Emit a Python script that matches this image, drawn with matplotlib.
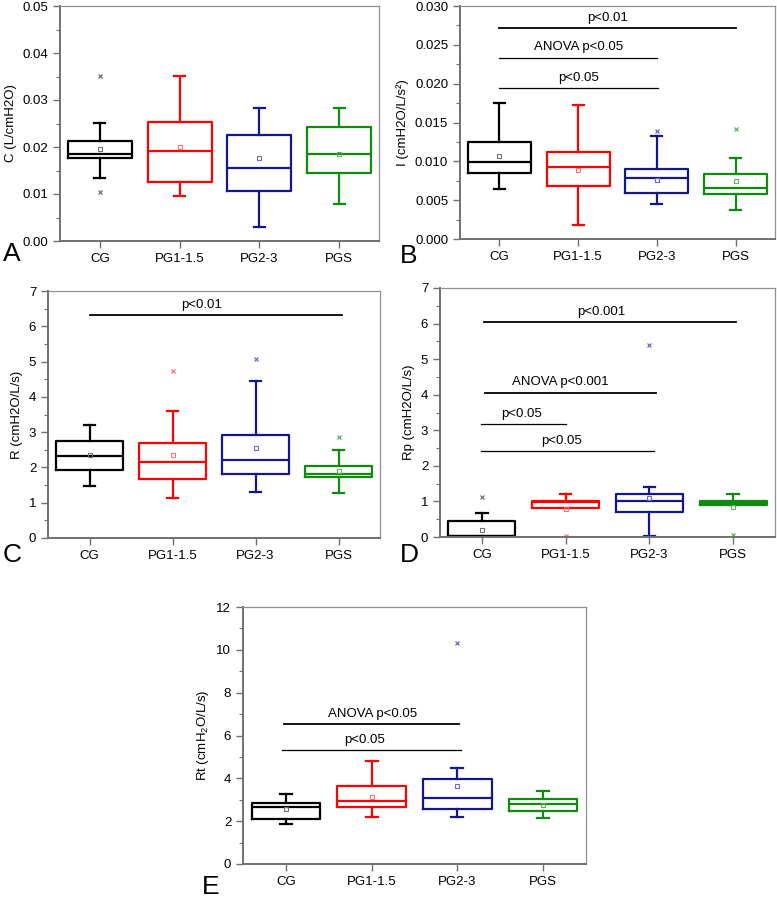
import matplotlib
matplotlib.use("Agg")
import matplotlib.pyplot as plt
from matplotlib.ticker import MultipleLocator, FormatStrFormatter

plt.rcParams['font.family'] = ['Liberation Sans', 'DejaVu Sans']
plt.rcParams['mathtext.default'] = 'regular'

groups = ["CG", "PG1-1.5", "PG2-3", "PGS"]
colors = ["#000000", "#ff0000", "#16168c", "#108a10"]
light = ["#707070", "#ff7070", "#6a6ac0", "#60b060"]

# per group: whisker low, q1, median, q3, whisker high, mean
C_stats = [(0.0135, 0.0176, 0.0185, 0.0213, 0.0252, 0.0196),
           (0.0096, 0.0125, 0.0191, 0.0254, 0.0352, 0.0200),
           (0.0030, 0.0107, 0.0156, 0.0226, 0.0283, 0.0177),
           (0.0079, 0.0144, 0.0186, 0.0243, 0.0283, 0.0186)]
C_fliers = [[0.0352, 0.0104], [], [], []]
C_sig = []

I_stats = [(0.0064, 0.00854, 0.00996, 0.01253, 0.01751, 0.01064),
           (0.00176, 0.00678, 0.00927, 0.01124, 0.01725, 0.00893),
           (0.0045, 0.00588, 0.0079, 0.00897, 0.01322, 0.00755),
           (0.00369, 0.00584, 0.00652, 0.00837, 0.01039, 0.00742)]
I_fliers = [[], [], [0.0139], [0.01412]]
# x1, x2, y, text x, label, thick line
I_sig = [(1.0, 4.01, 0.02717, 2.37, "p<0.01", True),
         (1.0, 3.0, 0.02335, 2.0, "ANOVA p<0.05", False),
         (1.0, 3.02, 0.01944, 2.0, "p<0.05", False)]

R_stats = [(1.486, 1.93, 2.31, 2.744, 3.19, 2.36),
           (1.136, 1.666, 2.148, 2.70, 3.60, 2.34),
           (1.297, 1.80, 2.214, 2.915, 4.44, 2.555),
           (1.268, 1.722, 1.826, 2.054, 2.49, 1.902)]
R_fliers = [[], [4.72], [5.07], [2.87]]
R_sig = [(1.0, 4.04, 6.31, 2.35, "p<0.01", True)]

Rp_stats = [(0.0, 0.02, 0.04, 0.459, 0.683, 0.206),
            (0.824, 0.824, 0.99, 1.011, 1.207, 0.796),
            (0.02, 0.693, 1.011, 1.198, 1.413, 1.105),
            (0.889, 0.889, 0.964, 1.02, 1.207, 0.852)]
Rp_fliers = [[1.13], [0.03], [5.40], [0.05]]
Rp_sig = [(1.03, 4.04, 6.04, 2.43, "p<0.001", True),
          (1.04, 3.08, 4.06, 1.94, "ANOVA p<0.001", True),
          (0.99, 2.01, 3.18, 1.47, "p<0.05", False),
          (0.99, 3.06, 2.42, 1.95, "p<0.05", False)]

Rt_stats = [(1.88, 2.115, 2.66, 2.86, 3.28, 2.566),
            (2.21, 2.66, 2.955, 3.62, 4.81, 3.126),
            (2.21, 2.58, 3.064, 3.966, 4.46, 3.655),
            (2.16, 2.47, 2.815, 3.03, 3.41, 2.75)]
Rt_fliers = [[], [], [10.31], []]
Rt_sig = [(0.98, 3.02, 6.52, 2.01, "ANOVA p<0.05", True),
          (0.95, 3.04, 5.30, 1.92, "p<0.05", False)]


def panel(ax, stats, fliers, sig, ylabel, ymax, major, minor, fmt):
    bstats = []
    for s, f in zip(stats, fliers):
        bstats.append(dict(whislo=s[0], q1=s[1], med=s[2], q3=s[3],
                           whishi=s[4], mean=s[5], fliers=f))
    bp = ax.bxp(bstats, positions=[1, 2, 3, 4], widths=0.8, capwidths=0.14,
                showmeans=True)
    for i in range(4):
        c = colors[i]
        bp['boxes'][i].set(color=c, linewidth=1.6)
        bp['medians'][i].set(color=c, linewidth=1.6)
        for ln in bp['whiskers'][2 * i:2 * i + 2] + bp['caps'][2 * i:2 * i + 2]:
            ln.set(color=c, linewidth=1.6)
        bp['means'][i].set(marker='s', markersize=3.5, markerfacecolor='none',
                           markeredgecolor=light[i], markeredgewidth=0.8)
        bp['fliers'][i].set(marker='x', markersize=3.5, markeredgecolor=light[i],
                            markeredgewidth=0.9)
    for x1, x2, y, tx, label, thick in sig:
        ax.plot([x1, x2], [y, y], color='black', lw=1.3 if thick else 0.9)
        ax.annotate(label, (tx, y), xytext=(0, 3), textcoords='offset points',
                    ha='center', va='bottom', fontsize=9.5)
    ax.set_xlim(0.5, 4.5)
    ax.set_ylim(0, ymax)
    ax.set_xticks([1, 2, 3, 4])
    ax.set_xticklabels(groups)
    ax.yaxis.set_major_locator(MultipleLocator(major))
    ax.yaxis.set_minor_locator(MultipleLocator(minor))
    ax.yaxis.set_major_formatter(FormatStrFormatter(fmt))
    ax.set_ylabel(ylabel, fontsize=9.5)
    ax.tick_params(axis='both', which='major', labelsize=9.5, length=5,
                   width=1.0, color='#707070', direction='out')
    ax.tick_params(axis='y', which='minor', length=3, width=0.8, color='#707070')
    ax.tick_params(axis='x', which='minor', bottom=False)
    for side in ['left', 'bottom']:
        ax.spines[side].set(color='#707070', linewidth=1.4)
    for side in ['top', 'right']:
        ax.spines[side].set(color='#909090', linewidth=0.9)


W, H = 777, 899
fig = plt.figure(figsize=(W / 100, H / 100), dpi=100)


def box(l, r, t, b):
    return [l / W, 1 - b / H, (r - l) / W, (b - t) / H]


axA = fig.add_axes(box(60, 379, 6, 241))
axB = fig.add_axes(box(460, 775, 6, 239))
axC = fig.add_axes(box(48, 380, 291, 538))
axD = fig.add_axes(box(440, 775, 288, 537))
axE = fig.add_axes(box(243, 586, 607, 864))

panel(axA, C_stats, C_fliers, C_sig, "C (L/cmH2O)", 0.05, 0.01, 0.005, "%.2f")
panel(axB, I_stats, I_fliers, I_sig, "I (cmH2O/L/s²)", 0.03, 0.005, 0.0025, "%.3f")
panel(axC, R_stats, R_fliers, R_sig, "R (cmH2O/L/s)", 7, 1, 0.5, "%d")
panel(axD, Rp_stats, Rp_fliers, Rp_sig, "Rp (cmH2O/L/s)", 7, 1, 0.5, "%d")
panel(axE, Rt_stats, Rt_fliers, Rt_sig, "Rt (cmH$_2$O/L/s)", 12, 2, 1, "%d")

for letter, x, y in [("A", 3, 254), ("B", 400, 256), ("C", 3, 555),
                     ("D", 400, 555), ("E", 202, 887)]:
    fig.text(x / W, 1 - y / H, letter, fontsize=19, ha='left', va='center')

fig.savefig("out.png", dpi=100)
